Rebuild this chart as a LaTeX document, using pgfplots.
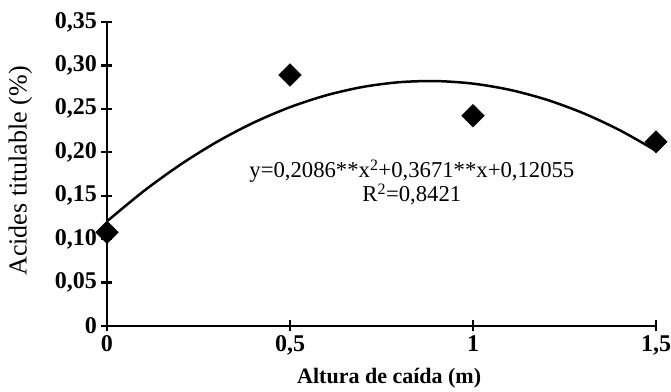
\documentclass[border=0pt]{standalone}
\usepackage{pgfplots}
\pgfplotsset{compat=1.18}
\usepackage{fontspec}
\setmainfont{Liberation Serif}
\begin{document}
\begin{tikzpicture}
\begin{axis}[
  width=549pt, height=304pt, scale only axis,
  xmin=0, xmax=1.5, ymin=0, ymax=0.35,
  axis x line*=bottom, axis y line*=left,
  axis line style={line width=2.4pt},
  xtick={0,0.5,1,1.5},
  xticklabels={{0},{0,5},{1},{1,5}},
  ytick={0,0.05,0.1,0.15,0.2,0.25,0.3,0.35},
  yticklabels={{0},{0,05},{0,10},{0,15},{0,20},{0,25},{0,30},{0,35}},
  tick align=center,
  major tick length=11pt,
  tick style={line width=2.4pt, black},
  /pgf/number format/assume math mode=true,
  ticklabel style={font=\bfseries\fontsize{24}{24}\selectfont},
  yticklabel style={xshift=-1pt},
  xticklabel style={yshift=-1pt},
  xlabel={Altura de caída (m)},
  ylabel={Acides titulable (\%)},
  xlabel style={font=\bfseries\fontsize{22}{22}\selectfont, at={(axis description cs:0.514,-0.171)}, anchor=center},
  ylabel style={font=\fontsize{26}{26}\selectfont, at={(axis description cs:-0.158,0.51)}, anchor=center},
  clip=false,
]
\addplot[black, line width=2.5pt, smooth] coordinates {
(0,0.12055) (0.1,0.15517) (0.2,0.18563) (0.3,0.21191) (0.4,0.23401)
(0.5,0.25195) (0.6,0.26571) (0.7,0.27531) (0.8,0.28073) (0.9,0.28197)
(1.0,0.27905) (1.1,0.27195) (1.2,0.26069) (1.3,0.24525) (1.4,0.22563)
(1.5,0.20185)};
\addplot[only marks, mark=square*, mark size=8pt, mark options={rotate=45, fill=black, draw=black}] coordinates {
(0,0.108) (0.5,0.289) (1,0.242) (1.5,0.212)};
\node[font=\fontsize{22.7}{21}\selectfont, align=center] at (axis cs:0.833,0.165) {y=0,2086**x\textsuperscript{2}+0,3671**x+0,12055\\R\textsuperscript{2}=0,8421};
\end{axis}
\pgfresetboundingbox
\path ([shift={(-107pt,-66pt)}]current axis.south west) rectangle ([shift={(15pt,22pt)}]current axis.north east);
\end{tikzpicture}
\end{document}
